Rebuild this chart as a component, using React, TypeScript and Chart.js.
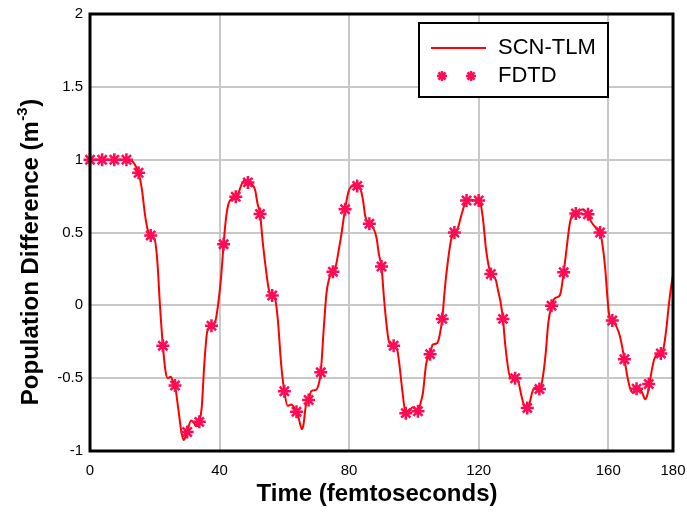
import React, { useEffect, useRef } from "react";
import { Chart, registerables } from "chart.js";

Chart.register(...registerables);

// SCN-TLM continuous curve (time in fs, population difference)
const lineTimes = [
  0, 5, 10, 13, 14, 15, 16, 17, 17.8, 18.75, 20, 20.8, 21.6, 22.5, 23.3, 24.0, 24.9, 25.6, 26.25, 27.2,
  28.3, 29.0, 29.5, 30, 31.2, 32.2, 32.8, 33.75, 34.5, 35.3, 36.2, 37.5, 38.8, 39.8, 40.5, 41.25, 42, 42.8,
  44, 45, 45.8, 46.8, 47.8, 48.75, 50, 51, 51.7, 52.5, 53.4, 54.3, 55.3, 56.25, 57.2, 58.0, 59.0, 60, 61,
  62.2, 63, 63.75, 64.5, 65.4, 65.9, 66.7, 67.5, 68.3, 69.8, 70.5, 71.25, 72.2, 73.0, 73.8, 75, 76.0, 76.8,
  77.5, 78.75, 79.8, 80.8, 82, 82.5, 83.5, 84.3, 85.0, 86.25, 87.5, 88.5, 89.2, 90, 90.8, 91.5, 92.3, 93.75,
  94.8, 95.6, 96.4, 97.5, 98.5, 99.6, 100.4, 101.25, 102.3, 102.8, 103.8, 105, 105.8, 107.2, 108, 108.75,
  109.5, 110.1, 111.5, 112.5, 113.4, 114.8, 116.25, 117.5, 118.8, 120, 120.6, 121.5, 122.3, 123.75, 125.2,
  126.0, 126.7, 127.5, 128.2, 129.7, 131.25, 132.3, 133.3, 134.5, 135, 135.6, 136.5, 137.2, 138.75, 139.6,
  140.6, 141.5, 142.5, 143.6, 145.1, 146.25, 147.2, 148.2, 149.2, 150.3, 151.5, 152.3, 153.2, 153.75, 154.6,
  155.9, 157.5, 158.2, 159, 160.2, 161.25, 162.4, 163.6, 165, 166, 166.9, 168, 168.75, 169.6, 170.5, 171.4,
  172.0, 172.6, 173.5, 174.2, 175.6, 176.25, 177.2, 178.0, 178.7, 179.5, 180,
];
const lineValues = [
  1.0, 1.0, 1.0, 0.99, 0.96, 0.91, 0.8, 0.62, 0.52, 0.48, 0.45, 0.3, 0.0, -0.277, -0.45, -0.5, -0.49, -0.52, -0.55, -0.7,
  -0.88, -0.925, -0.9, -0.87, -0.79, -0.81, -0.83, -0.8, -0.7, -0.4, -0.18, -0.14, -0.1, 0.05, 0.2, 0.42, 0.6, 0.7,
  0.735, 0.745, 0.77, 0.83, 0.86, 0.844, 0.83, 0.79, 0.7, 0.627, 0.42, 0.25, 0.1, 0.067, 0.04, -0.1, -0.4, -0.59, -0.69,
  -0.68, -0.7, -0.73, -0.78, -0.85, -0.82, -0.68, -0.65, -0.59, -0.58, -0.55, -0.46, -0.15, 0.08, 0.18, 0.23, 0.28, 0.38,
  0.47, 0.66, 0.78, 0.82, 0.83, 0.82, 0.8, 0.72, 0.61, 0.56, 0.53, 0.46, 0.35, 0.266, 0.04, -0.12, -0.25, -0.277,
  -0.3, -0.42, -0.58, -0.74, -0.73, -0.7, -0.71, -0.727, -0.65, -0.6, -0.4, -0.335, -0.27, -0.26, -0.2, -0.093,
  0.1, 0.23, 0.45, 0.5, 0.52, 0.63, 0.72, 0.725, 0.72, 0.72, 0.7, 0.56, 0.38, 0.215, 0.18,
  0.1, 0.03, -0.093, -0.27, -0.49, -0.5, -0.53, -0.63, -0.71, -0.705, -0.68, -0.6, -0.565, -0.575, -0.52,
  -0.35, -0.12, -0.003, 0.05, 0.07, 0.227, 0.4, 0.57, 0.63, 0.64, 0.655, 0.66, 0.64, 0.625, 0.58,
  0.54, 0.5, 0.42, 0.27, -0.05, -0.104, -0.14, -0.21, -0.37, -0.5, -0.58, -0.6, -0.572, -0.57, -0.6, -0.645,
  -0.62, -0.56, -0.44, -0.37, -0.33, -0.33, -0.28, -0.15, 0.0, 0.14, 0.21,
];

// FDTD sample points
const fdtdTimes = [
  0, 3.75, 7.5, 11.25, 15, 18.75, 22.5, 26.25, 30, 33.75, 37.5, 41.25, 45, 48.75, 52.5, 56.25,
  60, 63.75, 67.5, 71.25, 75, 78.75, 82.5, 86.25, 90, 93.75, 97.5, 101.25, 105, 108.75, 112.5, 116.25,
  120, 123.75, 127.5, 131.25, 135, 138.75, 142.5, 146.25, 150, 153.75, 157.5, 161.25, 165, 168.75, 172.5, 176.25,
];
const fdtdValues = [
  1.0, 1.0, 1.0, 1.0, 0.91, 0.48, -0.277, -0.55, -0.87, -0.8, -0.14, 0.42, 0.745, 0.844, 0.627, 0.067,
  -0.59, -0.73, -0.65, -0.46, 0.23, 0.66, 0.82, 0.56, 0.266, -0.277, -0.74, -0.727, -0.335, -0.093, 0.5, 0.72,
  0.72, 0.215, -0.093, -0.5, -0.705, -0.575, -0.003, 0.227, 0.63, 0.625, 0.5, -0.104, -0.37, -0.572, -0.54, -0.33,
];

const xTicks = [0, 40, 80, 120, 160, 180];
const yTicks = [-1, -0.5, 0, 0.5, 1, 1.5, 2];
const seriesNames = ["SCN-TLM", "FDTD"];
const xTitle = "Time (femtoseconds)";
const yTitleMain = "Population Difference (m";
const yTitleSup = "-3";
const yTitleEnd = ")";

const LINE_COLOR = "#ff0000";
const STAR_COLOR = "#ff0a55";
const FONT = "'Liberation Sans', Arial, Helvetica, sans-serif";

function drawStar(ctx: CanvasRenderingContext2D, x: number, y: number, r: number) {
  const d = Math.cos(Math.PI / 4) * r;
  ctx.beginPath();
  ctx.moveTo(x - r, y);
  ctx.lineTo(x + r, y);
  ctx.moveTo(x, y - r);
  ctx.lineTo(x, y + r);
  ctx.moveTo(x - d, y - d);
  ctx.lineTo(x + d, y + d);
  ctx.moveTo(x - d, y + d);
  ctx.lineTo(x + d, y - d);
  ctx.stroke();
}

const decorPlugin = {
  id: "decor",
  afterDraw(chart: any) {
    const ctx: CanvasRenderingContext2D = chart.ctx;
    const { left, right, top, bottom } = chart.chartArea;
    ctx.save();
    // plot frame
    ctx.strokeStyle = "#000";
    ctx.lineWidth = 3;
    ctx.strokeRect(left, top, right - left, bottom - top);

    // legend
    const lx = 419, ly = 23, lw = 189, lh = 74;
    ctx.fillStyle = "#fff";
    ctx.fillRect(lx, ly, lw, lh);
    ctx.lineWidth = 2;
    ctx.strokeStyle = "#000";
    ctx.strokeRect(lx, ly, lw, lh);
    ctx.strokeStyle = LINE_COLOR;
    ctx.lineWidth = 2;
    ctx.beginPath();
    ctx.moveTo(431, 48);
    ctx.lineTo(486, 48);
    ctx.stroke();
    ctx.strokeStyle = STAR_COLOR;
    ctx.lineWidth = 2.5;
    drawStar(ctx, 442, 76, 5);
    drawStar(ctx, 471, 76, 5);
    ctx.fillStyle = "#000";
    ctx.font = `22px ${FONT}`;
    ctx.textAlign = "left";
    ctx.textBaseline = "middle";
    ctx.fillText(seriesNames[0], 498, 48);
    ctx.fillText(seriesNames[1], 498, 76);

    // x title
    ctx.font = `bold 24px ${FONT}`;
    ctx.textAlign = "center";
    ctx.textBaseline = "middle";
    ctx.fillText(xTitle, 377, 494);

    // y title with superscript
    ctx.translate(31, 252);
    ctx.rotate(-Math.PI / 2);
    const big = `bold 24px ${FONT}`;
    const small = `bold 15px ${FONT}`;
    ctx.font = big;
    const w1 = ctx.measureText(yTitleMain).width;
    const w3 = ctx.measureText(yTitleEnd).width;
    ctx.font = small;
    const w2 = ctx.measureText(yTitleSup).width;
    const total = w1 + w2 + w3 + 1;
    let cx = -total / 2;
    ctx.textAlign = "left";
    ctx.font = big;
    ctx.fillText(yTitleMain, cx, 0);
    cx += w1;
    ctx.font = small;
    ctx.fillText(yTitleSup, cx + 0.5, -8);
    cx += w2 + 1;
    ctx.font = big;
    ctx.fillText(yTitleEnd, cx, 0);
    ctx.restore();
  },
};

export default function App() {
  const ref = useRef<HTMLCanvasElement | null>(null);
  useEffect(() => {
    if (!ref.current) return;
    const chart = new Chart(ref.current, {
      type: "scatter",
      data: {
        datasets: [
          {
            label: seriesNames[0],
            data: lineTimes.map((t, i) => ({ x: t, y: lineValues[i] })),
            showLine: true,
            borderColor: LINE_COLOR,
            backgroundColor: LINE_COLOR,
            borderWidth: 2,
            pointRadius: 0,
            cubicInterpolationMode: "monotone",
            order: 2,
          } as any,
          {
            label: seriesNames[1],
            data: fdtdTimes.map((t, i) => ({ x: t, y: fdtdValues[i] })),
            showLine: false,
            pointStyle: "star",
            pointRadius: 6.5,
            borderColor: STAR_COLOR,
            backgroundColor: STAR_COLOR,
            pointBorderWidth: 2.5,
            borderWidth: 2.5,
            clip: false,
            order: 1,
          } as any,
        ],
      },
      options: {
        responsive: false,
        animation: false,
        devicePixelRatio: 1,
        layout: { padding: { left: 0, top: 14, right: 14, bottom: 0 } },
        plugins: { legend: { display: false }, tooltip: { enabled: false } },
        scales: {
          x: {
            type: "linear",
            min: 0,
            max: 180,
            afterBuildTicks: (s: any) => {
              s.ticks = xTicks.map((v) => ({ value: v }));
            },
            afterFit: (s: any) => {
              s.height = 61;
              s.paddingLeft = 0;
              s.paddingRight = 0;
            },
            grid: { color: "#c8c8c8", lineWidth: 2, drawTicks: false },
            border: { display: false },
            ticks: {
              color: "#000",
              font: { family: FONT, size: 15 },
              padding: 11,
              maxRotation: 0,
              autoSkip: false,
            },
          },
          y: {
            type: "linear",
            min: -1,
            max: 2,
            afterBuildTicks: (s: any) => {
              s.ticks = yTicks.map((v) => ({ value: v }));
            },
            afterFit: (s: any) => {
              s.width = 90;
              s.paddingTop = 0;
              s.paddingBottom = 0;
            },
            grid: { color: "#c8c8c8", lineWidth: 2, drawTicks: false },
            border: { display: false },
            ticks: {
              color: "#000",
              font: { family: FONT, size: 15 },
              padding: 7,
              callback: (v: any) => String(v),
            },
          },
        },
      },
      plugins: [decorPlugin],
    });
    return () => chart.destroy();
  }, []);
  return (
    <div style={{ position: "absolute", left: 0, top: 0, width: 687, height: 512, background: "#fff" }}>
      <canvas ref={ref} width={687} height={512} />
    </div>
  );
}
